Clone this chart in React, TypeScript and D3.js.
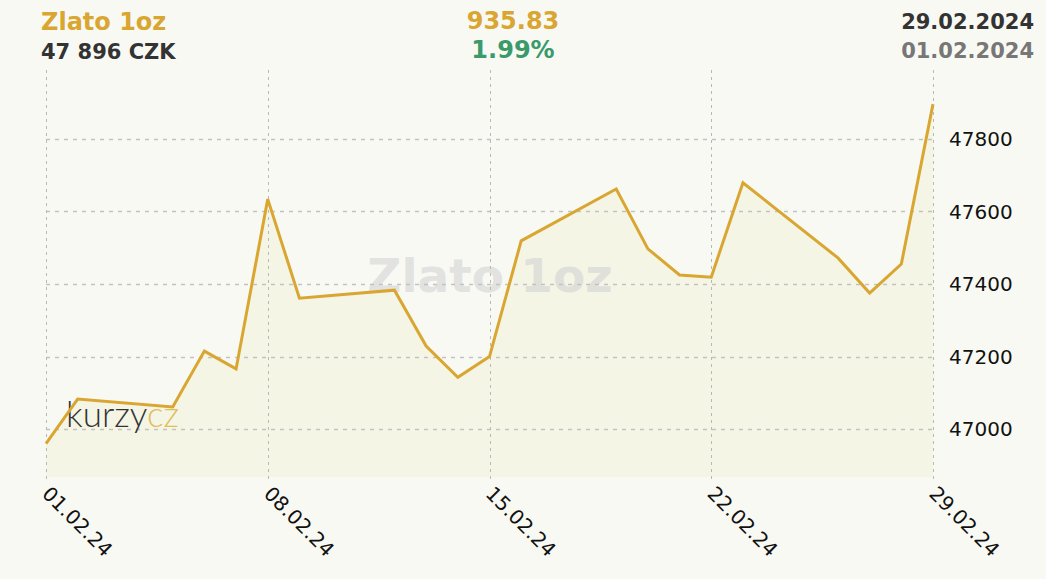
import { useEffect, useRef } from "react";
import * as d3 from "d3";

const dates = [
  "2024-02-01", "2024-02-02", "2024-02-05", "2024-02-06", "2024-02-07",
  "2024-02-08", "2024-02-09", "2024-02-12", "2024-02-13", "2024-02-14",
  "2024-02-15", "2024-02-16", "2024-02-19", "2024-02-20", "2024-02-21",
  "2024-02-22", "2024-02-23", "2024-02-26", "2024-02-27", "2024-02-28",
  "2024-02-29",
];
const prices = [
  46960, 47083, 47061, 47215, 47166,
  47634, 47361, 47383, 47229, 47143,
  47200, 47519, 47662, 47497, 47425,
  47419, 47679, 47472, 47375, 47455,
  47896,
];
const xTicks = ["2024-02-01", "2024-02-08", "2024-02-15", "2024-02-22", "2024-02-29"];
const yTicks = [47000, 47200, 47400, 47600, 47800];

const W = 1046,
  H = 579;
const GOLD = "#d9a632";
const FONT = "'DejaVu Sans', Verdana, sans-serif";

export default function App() {
  const ref = useRef<SVGSVGElement>(null);

  useEffect(() => {
    const svg = d3.select(ref.current!);
    svg.selectAll("*").remove();
    const parse = d3.utcParse("%Y-%m-%d");
    const data = dates.map((d, i) => ({ d: parse(d)!, v: prices[i] }));

    const left = 46,
      right = 933,
      top = 70,
      bottom = 477;

    const x = d3
      .scaleUtc()
      .domain([parse(dates[0])!, parse(dates[dates.length - 1])!])
      .range([left, right]);
    const y = d3.scaleLinear().domain([46868, 47990]).range([bottom, top]);

    svg.append("rect").attr("width", W).attr("height", H).attr("fill", "#f9f9f4");

    // header
    const hdr = svg.append("g").attr("font-family", FONT).attr("font-weight", "bold");
    hdr.append("text").attr("x", 41).attr("y", 30).attr("font-size", 24).attr("fill", GOLD).text("Zlato 1oz");
    hdr.append("text").attr("x", 41).attr("y", 59).attr("font-size", 21).attr("fill", "#333").text("47 896 CZK");
    hdr.append("text").attr("x", 513).attr("y", 29).attr("font-size", 24).attr("text-anchor", "middle").attr("fill", GOLD).text("935.83");
    hdr.append("text").attr("x", 513).attr("y", 58).attr("font-size", 24).attr("text-anchor", "middle").attr("fill", "#3a9a6a").text("1.99%");
    hdr.append("text").attr("x", 1034).attr("y", 29).attr("font-size", 21).attr("text-anchor", "end").attr("fill", "#333").text("29.02.2024");
    hdr.append("text").attr("x", 1034).attr("y", 58).attr("font-size", 21).attr("text-anchor", "end").attr("fill", "#777").text("01.02.2024");

    // area
    svg
      .append("path")
      .datum(data)
      .attr("fill", "#f5f5e5")
      .attr(
        "d",
        d3
          .area<{ d: Date; v: number }>()
          .x((p) => x(p.d))
          .y0(bottom)
          .y1((p) => y(p.v))
      );

    // watermark
    svg
      .append("text")
      .attr("x", 490)
      .attr("y", 292)
      .attr("text-anchor", "middle")
      .attr("font-family", FONT)
      .attr("font-weight", "bold")
      .attr("font-size", 47)
      .attr("fill", "#d6d6d6")
      .attr("opacity", 0.65)
      .text("Zlato 1oz");

    // grid
    const grid = svg.append("g").attr("fill", "none");
    grid
      .selectAll("line.h")
      .data(yTicks)
      .join("line")
      .attr("x1", left)
      .attr("x2", right)
      .attr("y1", (t) => Math.round(y(t)) + 0.5)
      .attr("y2", (t) => Math.round(y(t)) + 0.5)
      .attr("stroke", "#c2c2c2")
      .attr("stroke-width", 1.5)
      .attr("stroke-dasharray", "4,5");
    grid
      .selectAll("line.v")
      .data(xTicks)
      .join("line")
      .attr("x1", (t) => Math.round(x(parse(t)!)) + 0.5)
      .attr("x2", (t) => Math.round(x(parse(t)!)) + 0.5)
      .attr("y1", top)
      .attr("y2", bottom + 4)
      .attr("stroke", "#b8b8b8")
      .attr("stroke-width", 1)
      .attr("stroke-dasharray", "3,4");

    // kurzy logo
    const logo = svg
      .append("text")
      .attr("x", 66)
      .attr("y", 427)
      .attr("font-family", "Lato, 'Open Sans', sans-serif")
      .attr("font-weight", 300)
      .attr("font-size", 35);
    logo.append("tspan").attr("fill", "#333").text("kurzy");
    logo.append("tspan").attr("fill", "#e3bd5c").text("cz");

    // line
    svg
      .append("path")
      .datum(data)
      .attr("fill", "none")
      .attr("stroke", GOLD)
      .attr("stroke-width", 3)
      .attr(
        "d",
        d3
          .line<{ d: Date; v: number }>()
          .x((p) => x(p.d))
          .y((p) => y(p.v))
      );

    // y labels
    svg
      .append("g")
      .selectAll("text")
      .data(yTicks)
      .join("text")
      .attr("x", 949)
      .attr("y", (t) => y(t))
      .attr("dy", "0.36em")
      .attr("font-family", FONT)
      .attr("font-size", 20)
      .attr("fill", "#111")
      .text((t) => String(t));

    // x labels
    const fmt = d3.utcFormat("%d.%m.%y");
    svg
      .append("g")
      .selectAll("text")
      .data(xTicks)
      .join("text")
      .attr("transform", (t) => `translate(${x(parse(t)!) - 5},${bottom + 18}) rotate(45)`)
      .attr("font-family", FONT)
      .attr("font-size", 20)
      .attr("fill", "#111")
      .text((t) => fmt(parse(t)!));
  }, []);

  return (
    <svg
      ref={ref}
      width={W}
      height={H}
      style={{ position: "absolute", left: 0, top: 0, display: "block" }}
    />
  );
}
